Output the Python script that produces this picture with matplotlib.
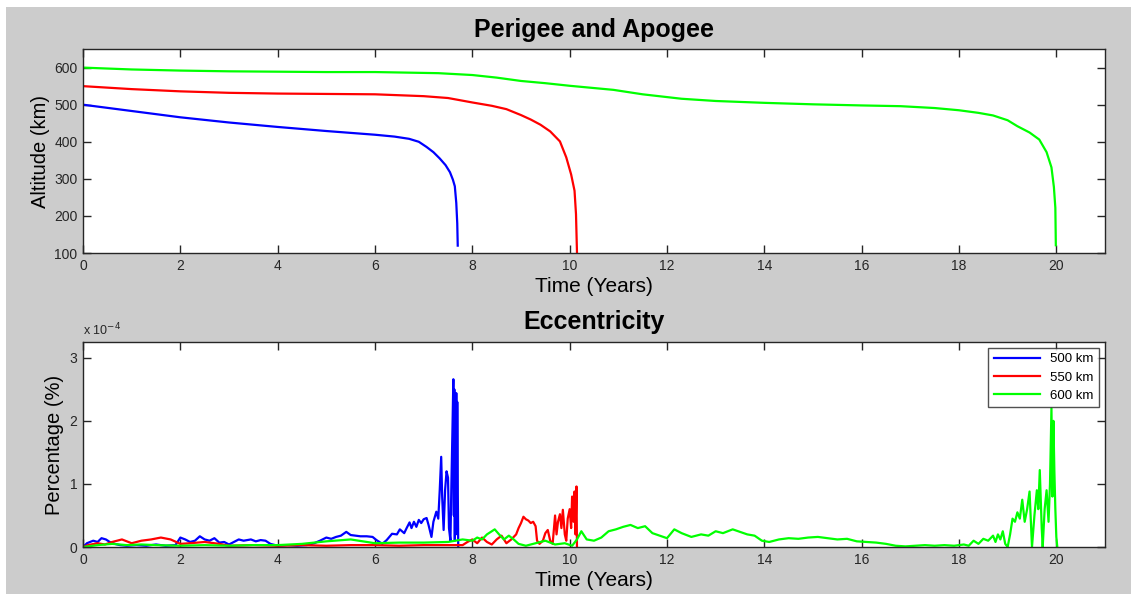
import numpy as np
import matplotlib
matplotlib.use('Agg')
import matplotlib.pyplot as plt

plt.rcParams['font.family'] = ['Liberation Sans', 'DejaVu Sans']

########################### ALTITUDE DATA (km) ###########################
t_500 = [0.0, 1.0, 2.0, 3.0, 4.0, 5.0, 6.0, 6.4, 6.7, 6.9, 7.06, 7.2, 7.33, 7.45, 7.54, 7.6, 7.64, 7.67, 7.69, 7.70]
alt_500 = [500, 483, 466, 452, 440, 429, 419, 414, 408, 400, 386, 372, 355, 337, 318, 298, 280, 235, 180, 120]

t_550 = [0.0, 1.0, 2.0, 3.0, 4.0, 5.0, 6.0, 7.0, 7.5, 8.0, 8.4, 8.7, 9.0, 9.2, 9.4, 9.6, 9.8, 9.93, 10.03, 10.1, 10.13, 10.15]
alt_550 = [550, 542, 536, 532, 530, 529, 528, 523, 518, 506, 497, 488, 472, 460, 446, 428, 401, 358, 312, 268, 205, 103]

t_600 = [0.0, 1.0, 2.0, 3.0, 4.0, 5.0, 6.0, 7.3, 8.0, 8.5, 9.0, 9.5, 10.0, 10.9, 11.5, 12.3, 13.0, 14.0, 15.0, 16.0, 16.8,
         17.5, 18.0, 18.4, 18.7, 19.0, 19.2, 19.45, 19.65, 19.8, 19.9, 19.95, 19.98, 19.99]
alt_600 = [600, 595, 592, 590, 589, 588, 588, 585, 580, 573, 564, 558, 551, 540, 528, 516, 510, 505, 501, 498, 496,
           491, 485, 478, 471, 458, 442, 425, 406, 372, 331, 278, 222, 121]

########################### ECCENTRICITY DATA (x 1e-4) ###########################
te_500 = [0.0, 0.08, 0.21, 0.3, 0.38, 0.47, 0.55, 0.65, 0.76, 0.9, 1.1, 1.3, 1.5, 1.7, 1.9, 2.0, 2.1, 2.2, 2.3, 2.4, 2.5, 2.6,
          2.7, 2.8, 2.9, 3.0, 3.1, 3.2, 3.3, 3.45, 3.55, 3.65, 3.75, 3.85, 4.0, 4.2, 4.4, 4.6, 4.75, 4.87, 5.0, 5.1, 5.2,
          5.3, 5.41, 5.5, 5.6, 5.7, 5.83, 5.95, 6.03, 6.15, 6.24, 6.35, 6.45, 6.51, 6.6, 6.65, 6.71, 6.75, 6.8, 6.85, 6.9,
          6.95, 7.0, 7.06, 7.1, 7.16, 7.2, 7.26, 7.3, 7.33, 7.36, 7.38, 7.41, 7.44, 7.47, 7.5, 7.52, 7.55, 7.57, 7.59,
          7.61, 7.62, 7.63, 7.64, 7.65, 7.66, 7.67, 7.68, 7.69, 7.70, 7.71]
ecc_500 = [0.0, 0.06, 0.1, 0.08, 0.14, 0.12, 0.08, 0.05, 0.03, 0.02, 0.03, 0.02, 0.04, 0.02, 0.03, 0.15, 0.12, 0.08, 0.1,
           0.17, 0.12, 0.1, 0.14, 0.07, 0.08, 0.04, 0.08, 0.12, 0.1, 0.12, 0.09, 0.11, 0.1, 0.05, 0.02, 0.03, 0.02, 0.03,
           0.06, 0.1, 0.15, 0.13, 0.16, 0.18, 0.24, 0.19, 0.18, 0.17, 0.17, 0.16, 0.11, 0.05, 0.11, 0.21, 0.2, 0.28,
           0.22, 0.3, 0.39, 0.3, 0.4, 0.32, 0.43, 0.38, 0.44, 0.46, 0.35, 0.16, 0.4, 0.56, 0.45, 0.9, 1.43, 0.8, 0.27,
           0.9, 1.2, 1.1, 0.3, 0.1, 1.0, 1.8, 2.66, 0.5, 2.5, 0.1, 2.3, 0.2, 2.44, 0.3, 2.3, 1.0, 0.0]

te_550 = [0.0, 0.1, 0.3, 0.45, 0.6, 0.8, 0.9, 1.0, 1.2, 1.4, 1.6, 1.8, 2.0, 2.2, 2.5, 2.8, 3.0, 3.5, 4.0, 4.5, 5.0, 5.5,
          6.0, 6.5, 7.0, 7.5, 7.8, 7.9, 8.0, 8.1, 8.2, 8.3, 8.4, 8.5, 8.6, 8.7, 8.8, 8.9, 8.95, 9.0, 9.05, 9.1, 9.15,
          9.2, 9.25, 9.3, 9.33, 9.38, 9.45, 9.5, 9.55, 9.6, 9.65, 9.7, 9.73, 9.76, 9.8, 9.83, 9.86, 9.9, 9.93, 9.96,
          10.0, 10.03, 10.05, 10.08, 10.1, 10.12, 10.14, 10.15]
ecc_550 = [0.0, 0.03, 0.06, 0.04, 0.08, 0.12, 0.09, 0.06, 0.1, 0.12, 0.15, 0.12, 0.05, 0.06, 0.08, 0.05, 0.02, 0.03,
           0.02, 0.03, 0.02, 0.03, 0.03, 0.02, 0.03, 0.03, 0.03, 0.08, 0.12, 0.06, 0.15, 0.08, 0.04, 0.12, 0.18, 0.06,
           0.12, 0.2, 0.3, 0.38, 0.48, 0.44, 0.42, 0.38, 0.4, 0.33, 0.1, 0.05, 0.1, 0.22, 0.27, 0.1, 0.05, 0.5, 0.2,
           0.4, 0.52, 0.3, 0.59, 0.2, 0.1, 0.45, 0.6, 0.3, 0.8, 0.4, 0.88, 0.2, 0.96, 0.0]

te_600 = [0.0, 0.3, 0.6, 0.9, 1.2, 1.5, 2.0, 2.5, 3.0, 3.5, 4.0, 4.5, 5.0, 5.5, 6.0, 6.5, 7.0, 7.5, 7.8, 8.0, 8.1, 8.2,
          8.3, 8.4, 8.46, 8.55, 8.65, 8.75, 8.85, 8.95, 9.1, 9.3, 9.5, 9.7, 9.9, 10.05, 10.15, 10.24, 10.35, 10.5, 10.65,
          10.8, 10.95, 11.1, 11.25, 11.4, 11.55, 11.7, 11.85, 12.0, 12.15, 12.3, 12.5, 12.7, 12.85, 13.0, 13.15, 13.35,
          13.5, 13.65, 13.8, 13.95, 14.1, 14.3, 14.5, 14.7, 14.9, 15.1, 15.3, 15.5, 15.7, 15.9, 16.1, 16.3, 16.5, 16.7,
          16.9, 17.1, 17.3, 17.5, 17.7, 17.9, 18.1, 18.2, 18.3, 18.4, 18.5, 18.6, 18.7, 18.75, 18.8, 18.85, 18.9, 18.95,
          19.0, 19.05, 19.1, 19.15, 19.2, 19.25, 19.3, 19.35, 19.4, 19.45, 19.5, 19.55, 19.6, 19.63, 19.66, 19.7,
          19.72, 19.76, 19.8, 19.84, 19.87, 19.9, 19.92, 19.94, 19.96, 19.98, 20.0, 20.02]
ecc_600 = [0.0, 0.03, 0.05, 0.03, 0.04, 0.03, 0.02, 0.03, 0.02, 0.03, 0.03, 0.05, 0.09, 0.12, 0.06, 0.07, 0.07, 0.08,
           0.12, 0.1, 0.15, 0.12, 0.2, 0.25, 0.28, 0.2, 0.12, 0.18, 0.12, 0.05, 0.02, 0.06, 0.1, 0.04, 0.06, 0.02, 0.12,
           0.25, 0.12, 0.1, 0.15, 0.25, 0.28, 0.32, 0.35, 0.3, 0.33, 0.22, 0.18, 0.14, 0.28, 0.22, 0.16, 0.2, 0.18, 0.25,
           0.22, 0.28, 0.24, 0.2, 0.18, 0.1, 0.08, 0.12, 0.14, 0.13, 0.15, 0.16, 0.14, 0.12, 0.13, 0.09, 0.08, 0.07,
           0.05, 0.02, 0.01, 0.02, 0.03, 0.02, 0.03, 0.02, 0.04, 0.02, 0.1, 0.05, 0.13, 0.1, 0.18, 0.08, 0.2, 0.12,
           0.25, 0.05, 0.0, 0.2, 0.45, 0.4, 0.55, 0.45, 0.75, 0.4, 0.6, 0.88, 0.0, 0.5, 0.9, 0.6, 1.22, 0.3, 0.0, 0.6,
           0.9, 0.4, 1.0, 2.2, 0.8, 2.0, 1.2, 0.6, 0.16, 0.0]

labels = ['500 km', '550 km', '600 km']
colors = ['#0000ff', '#ff0000', '#00ff00']
#####################################################################

fig = plt.figure(figsize=(11.31, 5.94), dpi=100, facecolor='white')
# gray MATLAB-like figure background (white strip on top and left)
fig.patches.append(plt.Rectangle((6/1131, 0), 1, 1 - 7/594, transform=fig.transFigure,
                                 facecolor='#cccccc', edgecolor='none', zorder=-10))

ax1 = fig.add_axes([0.0734, 0.574, 0.9036, 0.3434])
ax2 = fig.add_axes([0.0734, 0.0791, 0.9036, 0.3451])

def style(ax):
    ax.set_facecolor('white')
    for s in ax.spines.values():
        s.set_color('#262626')
        s.set_linewidth(1.0)
    ax.tick_params(direction='in', length=6, width=1, color='#262626', top=True, right=True,
                   labelsize=10, labelcolor='#262626', pad=4)
    ax.set_xlim(0, 21)
    ax.set_xticks(range(0, 21, 2))

# top: perigee and apogee
ax1.plot(t_500, alt_500, c=colors[0], lw=1.6)
ax1.plot(t_550, alt_550, c=colors[1], lw=1.6)
ax1.plot(t_600, alt_600, c=colors[2], lw=1.6)
style(ax1)
ax1.set_ylim(100, 650)
ax1.set_yticks(range(100, 601, 100))
ax1.set_title('Perigee and Apogee', fontsize=18, fontweight='bold', pad=9)
ax1.set_xlabel('Time (Years)', fontsize=15, labelpad=3.5)
ax1.set_ylabel('Altitude (km)', fontsize=14.5, labelpad=3)

# bottom: eccentricity
ax2.plot(te_500, ecc_500, c=colors[0], lw=1.6, label=labels[0])
ax2.plot(te_550, ecc_550, c=colors[1], lw=1.6, label=labels[1])
ax2.plot(te_600, ecc_600, c=colors[2], lw=1.6, label=labels[2])
style(ax2)
ax2.set_ylim(0, 3.25)
ax2.set_yticks([0, 1, 2, 3])
ax2.set_title('Eccentricity', fontsize=18, fontweight='bold', pad=9.5)
ax2.set_xlabel('Time (Years)', fontsize=15, labelpad=3.5)
ax2.set_ylabel('Percentage (%)', fontsize=14.5, labelpad=4)
ax2.text(0.0, 1.02, r'x 10$^{-4}$', transform=ax2.transAxes, fontsize=9, color='#262626',
         ha='left', va='bottom')
leg = ax2.legend(loc='upper right', fontsize=9.5, frameon=True, fancybox=False,
                 edgecolor='#262626', borderaxespad=0.45, handlelength=3.5, labelspacing=0.45)
leg.get_frame().set_linewidth(1.0)

plt.savefig('out.png', dpi=100, facecolor=fig.get_facecolor())
